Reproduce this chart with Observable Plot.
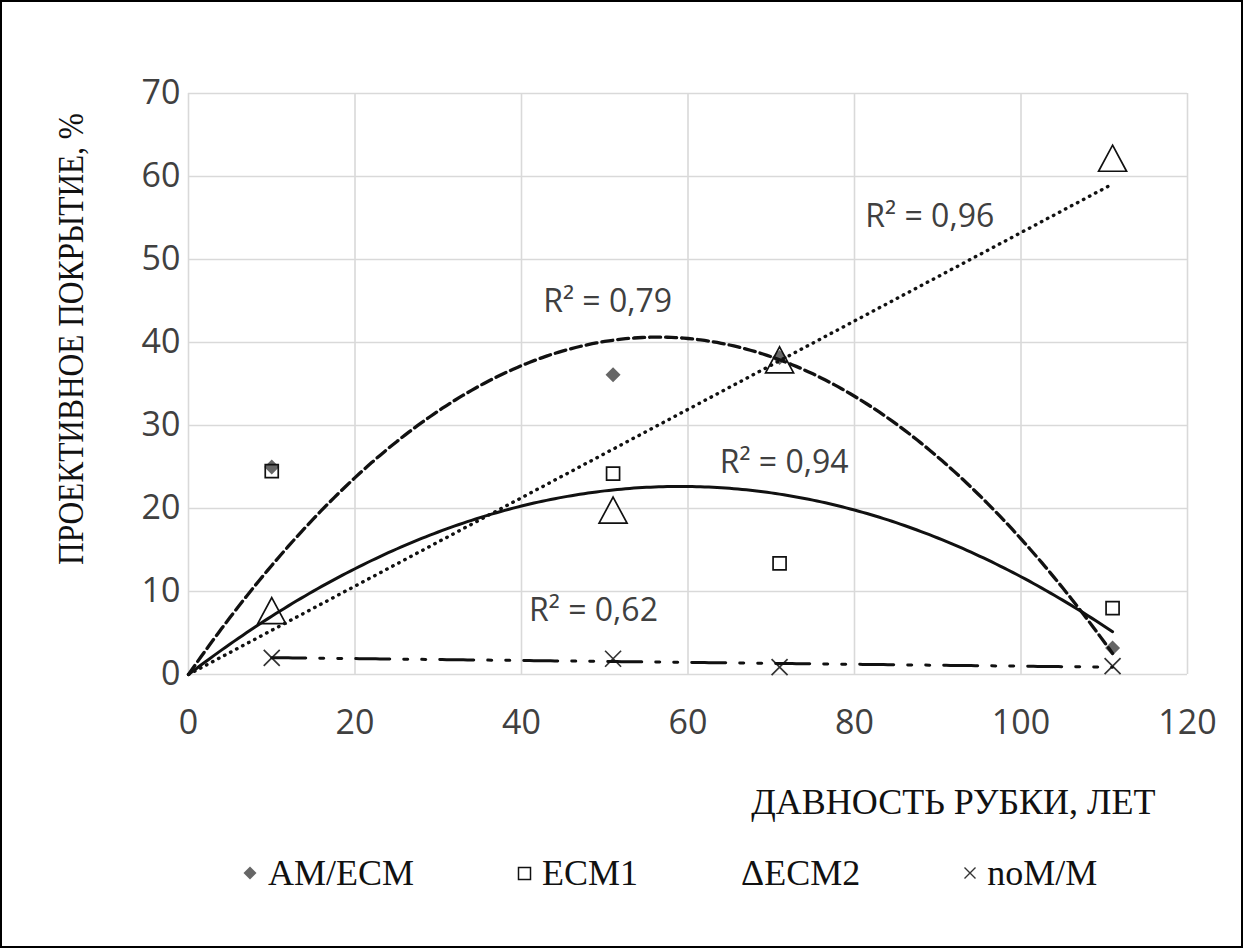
<!DOCTYPE html>
<html><head><meta charset="utf-8">
<script src="https://cdn.jsdelivr.net/npm/d3@7"></script>
<script src="https://cdn.jsdelivr.net/npm/@observablehq/plot@0.6"></script>
<style>
body{margin:0;background:#fff}
#wrap{position:relative;width:1243px;height:948px;outline:2px solid #000;outline-offset:-2px;background:#fff;overflow:hidden}
#chart svg{display:block}
#legend{position:absolute;top:855px;left:242px;display:flex;gap:103px;font-family:"Liberation Serif","Times New Roman",serif;font-size:36px;line-height:36px;color:#111;white-space:nowrap}
.item{display:flex;align-items:center}
.item svg{display:block}
</style></head><body>
<div id="wrap"><div id="chart"></div><div id="legend"></div></div>
<script>
// ---- data ----
const years = [10, 51, 71, 111];
const amEcm = [25.0, 36.1, 38.2, 3.2];
const ecm1  = [24.5, 24.2, 13.4, 8.0];
const ecm2  = [7.7, 19.8, 37.9, 62.2];
const noMM  = [2.0, 1.9, 0.9, 1.0];
const seriesNames = ["AM/ECM", "ECM1", "ECM2", "noM/M"];
const xTicks = [0, 20, 40, 60, 80, 100, 120];
const yTicks = [0, 10, 20, 30, 40, 50, 60, 70];
const r2Text = ["R² = 0,79", "R² = 0,94", "R² = 0,96", "R² = 0,62"];
const r2X = [42.6, 63.8, 81.3, 40.9];
const r2Y = [43.7, 24.3, 53.9, 6.5];
const xTitle = "ДАВНОСТЬ РУБКИ, ЛЕТ";
const yTitle = "ПРОЕКТИВНОЕ ПОКРЫТИЕ, %";

// ---- trendline fits (least squares from the data) ----
function fitQuadOrigin(xs, ys) {
  let s2=0,s3=0,s4=0,sy=0,s2y=0;
  xs.forEach((x,i)=>{const y=ys[i]; s2+=x*x; s3+=x**3; s4+=x**4; sy+=x*y; s2y+=x*x*y;});
  const det = s2*s4 - s3*s3;
  const a = (sy*s4 - s3*s2y)/det, b = (s2*s2y - s3*sy)/det;
  return x => a*x + b*x*x;
}
function fitLinOrigin(xs, ys) {
  const k = d3.sum(xs, (x,i)=>x*ys[i]) / d3.sum(xs, x=>x*x);
  return x => k*x;
}
function fitLin(xs, ys) {
  const mx = d3.mean(xs), my = d3.mean(ys);
  const k = d3.sum(xs,(x,i)=>(x-mx)*(ys[i]-my)) / d3.sum(xs,x=>(x-mx)**2);
  return x => my + k*(x-mx);
}
const xMax = d3.max(years);
const sample = (f, from) => d3.range(from, xMax + 0.001, 0.5).map(x => ({x, y: f(x)}));
const trAm = sample(fitQuadOrigin(years, amEcm), 0);
const trE1 = sample(fitQuadOrigin(years, ecm1), 0);
const trE2 = sample(fitLinOrigin(years, ecm2), 0);
const trNo = sample(fitLin(years, noMM), d3.min(years));

const pts = vals => years.map((x,i)=>({x, y: vals[i]}));

// ---- symbols ----
const sym = fn => ({draw(ctx, size){ const r = Math.sqrt(size/Math.PI); fn(ctx, r); }});
const diamond = sym((c,r)=>{c.moveTo(0,-r);c.lineTo(r,0);c.lineTo(0,r);c.lineTo(-r,0);c.closePath();});
const square = sym((c,r)=>{c.moveTo(-r,-r);c.lineTo(r,-r);c.lineTo(r,r);c.lineTo(-r,r);c.closePath();});
const triangle = sym((c,r)=>{c.moveTo(0,-0.93*r);c.lineTo(r,0.93*r);c.lineTo(-r,0.93*r);c.closePath();});
const cross = sym((c,r)=>{c.moveTo(-r,-r);c.lineTo(r,r);c.moveTo(-r,r);c.lineTo(r,-r);});

const tickFont = {fontFamily:"'Open Sans', sans-serif", fontSize:34, fill:"#404040"};
const serif = "'Liberation Serif', 'Times New Roman', serif";

const chart = Plot.plot({
  width: 1243, height: 830,
  marginLeft: 188, marginRight: 56, marginTop: 93, marginBottom: 156,
  x: {domain: [0, 120]},
  y: {domain: [0, 70]},
  style: {background: "transparent", overflow: "visible"},
  marks: [
    Plot.gridX(xTicks, {stroke: "#d9d9d9", strokeOpacity: 1, strokeWidth: 1.6}),
    Plot.gridY(yTicks, {stroke: "#d9d9d9", strokeOpacity: 1, strokeWidth: 1.6}),
    Plot.axisX(xTicks, {tickSize: 0, tickPadding: 35, label: null, ...tickFont}),
    Plot.axisY(yTicks, {tickSize: 0, tickPadding: 8, label: null, ...tickFont}),
    Plot.dot(pts(amEcm), {x:"x", y:"y", symbol: diamond, r: 7.5, fill: "#666", stroke: "none"}),
    Plot.dot(pts(ecm1), {x:"x", y:"y", symbol: square, r: 6.5, fill: "none", stroke: "#111", strokeWidth: 1.7}),
    Plot.dot(pts(ecm2), {x:"x", y:"y", symbol: triangle, r: 14, fill: "none", stroke: "#111", strokeWidth: 1.7}),
    Plot.dot(pts(noMM), {x:"x", y:"y", symbol: cross, r: 8, fill: "none", stroke: "#333", strokeWidth: 1.7}),
    Plot.line(trAm, {x:"x", y:"y", stroke: "#111", strokeWidth: 3.3, strokeDasharray: "11,5"}),
    Plot.line(trE1, {x:"x", y:"y", stroke: "#111", strokeWidth: 3}),
    Plot.line(trE2, {x:"x", y:"y", stroke: "#111", strokeWidth: 3.4, strokeLinecap: "round", strokeDasharray: "0.5,6.3"}),
    Plot.line(trNo, {x:"x", y:"y", stroke: "#111", strokeWidth: 3, strokeDasharray: "34,14,4,14,4,14"}),
    Plot.text(r2Text, {x: (d,i)=>r2X[i], y: (d,i)=>r2Y[i], text: d=>d, textAnchor: "start", lineAnchor: "bottom",
      fontFamily: "'Open Sans', sans-serif", fontSize: 32, fill: "#404040"}),
    Plot.text([xTitle], {text: d=>d, frameAnchor: "bottom-right", textAnchor: "end", lineAnchor: "bottom",
      dx: -32, dy: 139, fontFamily: serif, fontSize: 36, fill: "#111"}),
    Plot.text([yTitle], {text: d=>d, frameAnchor: "left", rotate: -90, textAnchor: "middle", lineAnchor: "bottom",
      dx: -106, dy: -45, fontFamily: serif, fontSize: 35, fill: "#111"})
  ]
});
document.getElementById("chart").appendChild(chart);
// condense the vertical axis title to the reference's length
chart.querySelectorAll("text").forEach(t => {
  if (t.textContent === yTitle) { t.setAttribute("textLength", 452); t.setAttribute("lengthAdjust", "spacingAndGlyphs"); }
});

// ---- legend ----
const legendSymbols = [
  '<svg width="16" height="16" viewBox="-8 -8 16 16"><path d="M0,-6.5L6.5,0L0,6.5L-6.5,0Z" fill="#666"/></svg>',
  '<svg width="15" height="15" viewBox="-7.5 -7.5 15 15"><rect x="-6" y="-6" width="12" height="12" fill="none" stroke="#111" stroke-width="1.5"/></svg>',
  null,
  '<svg width="14" height="14" viewBox="-7 -7 14 14"><path d="M-5.5,-5.5L5.5,5.5M-5.5,5.5L5.5,-5.5" stroke="#333" stroke-width="1.4"/></svg>'
];
const legend = document.getElementById("legend");
seriesNames.forEach((name, i) => {
  const it = document.createElement("div");
  it.className = "item";
  if (legendSymbols[i]) {
    it.innerHTML = legendSymbols[i] + '<span style="margin-left:10px">' + name + '</span>';
  } else {
    it.innerHTML = '<span>Δ' + name + '</span>';
  }
  legend.appendChild(it);
});
</script>
</body></html>
